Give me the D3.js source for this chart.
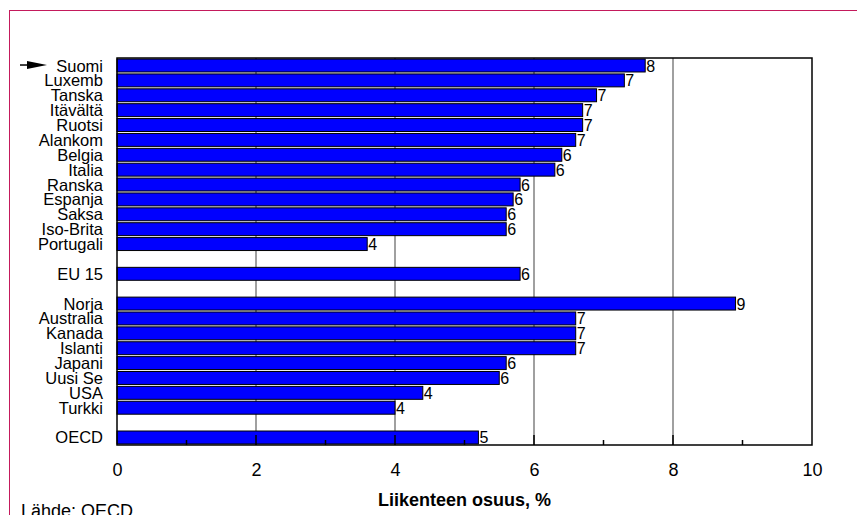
<!DOCTYPE html>
<html>
<head>
<meta charset="utf-8">
<script src="https://cdn.jsdelivr.net/npm/d3@7/dist/d3.min.js"></script>
<style>
  html, body { margin: 0; padding: 0; background: #ffffff; }
  svg { display: block; font-family: "Liberation Sans", Arial, sans-serif; }
</style>
</head>
<body>
<svg id="chart" width="857" height="515"></svg>
<script>
// Liikenteen osuus (%), empty strings are spacer rows between groups
const categories = [
  "Suomi", "Luxemb", "Tanska", "Itävältä", "Ruotsi", "Alankom", "Belgia",
  "Italia", "Ranska", "Espanja", "Saksa", "Iso-Brita", "Portugali",
  "", "EU 15", "",
  "Norja", "Australia", "Kanada", "Islanti", "Japani", "Uusi Se", "USA", "Turkki",
  "", "OECD"
];
const values = [
  7.6, 7.3, 6.9, 6.7, 6.7, 6.6, 6.4,
  6.3, 5.8, 5.7, 5.6, 5.6, 3.6,
  null, 5.8, null,
  8.9, 6.6, 6.6, 6.6, 5.6, 5.5, 4.4, 4.0,
  null, 5.2
];
const xTicks = [0, 2, 4, 6, 8, 10];
const minorTicks = [1, 3, 5, 7, 9];
const highlighted = "Suomi";
const axisTitle = "Liikenteen osuus, %";
const sourceNote = "Lähde: OECD";

const svg = d3.select("#chart");
const plot = { left: 117, right: 812, top: 58, bottom: 445 };

const rows = categories.map((name, i) => ({ i, name, value: values[i] }));

const x = d3.scaleLinear().domain([0, 10]).range([plot.left, plot.right]);
const y = d3.scaleBand()
  .domain(rows.map(d => d.i))
  .range([plot.top, plot.bottom])
  .paddingInner(0.13)
  .paddingOuter(0.07);

// outer pink frame
svg.append("rect")
  .attr("x", 9.5).attr("y", 10.5)
  .attr("width", 900).attr("height", 600)
  .attr("fill", "none")
  .attr("stroke", "#c41a5c")
  .attr("stroke-width", 1);

// vertical gridlines
svg.append("g")
  .selectAll("line")
  .data(xTicks.filter(t => t > 0 && t < 10))
  .join("line")
  .attr("x1", d => x(d)).attr("x2", d => x(d))
  .attr("y1", plot.top).attr("y2", plot.bottom)
  .attr("stroke", "#808080")
  .attr("stroke-width", 1.5);

// bars
const bars = rows.filter(d => d.value != null);
svg.append("g")
  .selectAll("rect")
  .data(bars)
  .join("rect")
  .attr("x", x(0))
  .attr("y", d => y(d.i))
  .attr("width", d => x(d.value) - x(0))
  .attr("height", y.bandwidth())
  .attr("fill", "#0000ff")
  .attr("stroke", "#000000")
  .attr("stroke-width", 1);

// value labels (rounded)
svg.append("g")
  .selectAll("text")
  .data(bars)
  .join("text")
  .attr("x", d => x(d.value) + 1)
  .attr("y", d => y(d.i) + y.bandwidth() / 2 + 6)
  .attr("font-size", 16)
  .attr("fill", "#000")
  .text(d => Math.round(d.value));

// category labels
svg.append("g")
  .selectAll("text")
  .data(rows.filter(d => d.name !== ""))
  .join("text")
  .attr("x", 103)
  .attr("y", d => y(d.i) + y.bandwidth() / 2 + 6)
  .attr("text-anchor", "end")
  .attr("font-size", 16.5)
  .attr("fill", "#000")
  .text(d => d.name);

// arrow marking the highlighted country
const hl = rows.find(d => d.name === highlighted);
const ay = y(hl.i) + y.bandwidth() / 2 - 0.5;
svg.append("line")
  .attr("x1", 20).attr("x2", 32)
  .attr("y1", ay).attr("y2", ay)
  .attr("stroke", "#000").attr("stroke-width", 1.5);
svg.append("path")
  .attr("d", `M27,${ay - 4}L47,${ay}L27,${ay + 4}Z`)
  .attr("fill", "#000");

// plot frame
svg.append("rect")
  .attr("x", plot.left).attr("y", plot.top)
  .attr("width", plot.right - plot.left)
  .attr("height", plot.bottom - plot.top)
  .attr("fill", "none")
  .attr("stroke", "#000")
  .attr("stroke-width", 1.5);

// x axis: inward ticks, labels below
const xAxis = svg.append("g")
  .attr("transform", `translate(0,${plot.bottom})`)
  .call(d3.axisBottom(x).tickValues(xTicks).tickSize(0).tickPadding(18));
xAxis.select(".domain").remove();
xAxis.selectAll("text")
  .attr("font-size", 18)
  .attr("font-family", "Liberation Sans, Arial, sans-serif")
  .attr("fill", "#000");

svg.append("g")
  .selectAll("line")
  .data(xTicks.filter(t => t > 0 && t < 10))
  .join("line")
  .attr("x1", d => x(d)).attr("x2", d => x(d))
  .attr("y1", plot.bottom).attr("y2", plot.bottom - 10)
  .attr("stroke", "#000").attr("stroke-width", 1.5);
svg.append("g")
  .selectAll("line")
  .data(minorTicks)
  .join("line")
  .attr("x1", d => x(d)).attr("x2", d => x(d))
  .attr("y1", plot.bottom).attr("y2", plot.bottom - 5)
  .attr("stroke", "#000").attr("stroke-width", 1.5);

// axis title
svg.append("text")
  .attr("x", (plot.left + plot.right) / 2)
  .attr("y", 506)
  .attr("text-anchor", "middle")
  .attr("font-size", 18)
  .attr("font-weight", "bold")
  .attr("fill", "#000")
  .text(axisTitle);

// source note
svg.append("text")
  .attr("x", 21)
  .attr("y", 517)
  .attr("font-size", 18)
  .attr("fill", "#000")
  .text(sourceNote);
</script>
</body>
</html>
